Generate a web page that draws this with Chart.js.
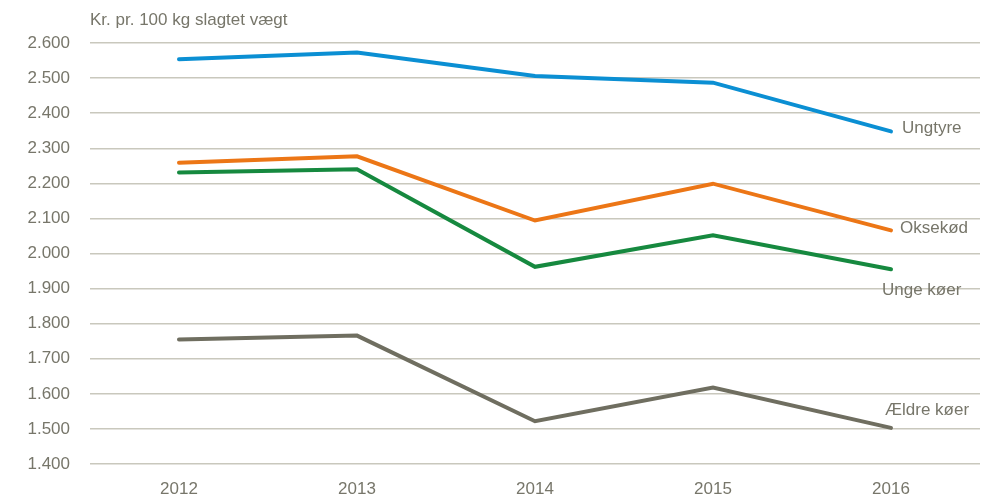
<!DOCTYPE html>
<html>
<head>
<meta charset="utf-8">
<script src="https://cdn.jsdelivr.net/npm/chart.js@4"></script>
<style>
  body { margin: 0; background: #fff; }
  #wrap { width: 992px; height: 500px; }
</style>
</head>
<body>
<div id="wrap"><canvas id="lineChart"></canvas></div>
<script>
const YEARS = ['2012', '2013', '2014', '2015', '2016'];
const UNGTYRE = [2554, 2573, 2506, 2487, 2348];
const OKSEKOD = [2259, 2277, 2094, 2199, 2066];
const UNGE_KOER = [2231, 2240, 1962, 2052, 1955];
const AELDRE_KOER = [1755, 1766, 1522, 1618, 1503];
const SERIES_NAMES = ['Ungtyre', 'Oksekød', 'Unge køer', 'Ældre køer'];
const Y_TITLE = 'Kr. pr. 100 kg slagtet vægt';

const FONT = '"Liberation Sans Narrow", "Arial Narrow", "Liberation Sans", sans-serif';
const GREY = '#77766a';

// label offsets next to the last point of each line
const labelOffsets = [[11, -3], [9, -2], [-9, 21], [-6, -18]];

const endLabels = {
  id: 'endLabels',
  afterDatasetsDraw(chart) {
    const ctx = chart.ctx;
    ctx.save();
    ctx.font = '17px ' + FONT;
    ctx.fillStyle = GREY;
    ctx.textBaseline = 'middle';
    ctx.textAlign = 'left';
    chart.data.datasets.forEach((ds, i) => {
      const pts = chart.getDatasetMeta(i).data;
      const p = pts[pts.length - 1];
      ctx.fillText(SERIES_NAMES[i], p.x + labelOffsets[i][0], p.y + labelOffsets[i][1]);
    });
    // unit title above the plot area
    ctx.fillText(Y_TITLE, chart.chartArea.left, 20);
    ctx.restore();
  }
};

function line(label, data, color) {
  return {
    label: label,
    data: data,
    borderColor: color,
    backgroundColor: color,
    borderWidth: 4,
    pointRadius: 0,
    tension: 0,
    borderCapStyle: 'round',
    borderJoinStyle: 'miter'
  };
}

new Chart(document.getElementById('lineChart'), {
  type: 'line',
  data: {
    labels: YEARS,
    datasets: [
      line(SERIES_NAMES[0], UNGTYRE, '#0b8fd3'),
      line(SERIES_NAMES[1], OKSEKOD, '#ec7616'),
      line(SERIES_NAMES[2], UNGE_KOER, '#16893f'),
      line(SERIES_NAMES[3], AELDRE_KOER, '#6f6e60')
    ]
  },
  plugins: [endLabels],
  options: {
    responsive: true,
    maintainAspectRatio: false,
    animation: false,
    layout: { padding: { top: 43, right: 12, left: 0, bottom: 0 } },
    plugins: {
      legend: { display: false },
      tooltip: { enabled: false }
    },
    scales: {
      x: {
        offset: true,
        afterFit(s) { s.height = 36; },
        grid: { display: false },
        border: { display: false },
        ticks: { color: GREY, font: { family: FONT, size: 17 }, padding: 7 }
      },
      y: {
        min: 1400,
        max: 2600,
        afterFit(s) { s.width = 90; },
        grid: { color: '#c9c8bd', lineWidth: 1.5, drawTicks: false },
        border: { display: false },
        ticks: {
          stepSize: 100,
          color: GREY,
          padding: 20,
          font: { family: FONT, size: 17 },
          callback: v => (v / 1000).toFixed(3)
        }
      }
    }
  }
});
</script>
</body>
</html>
